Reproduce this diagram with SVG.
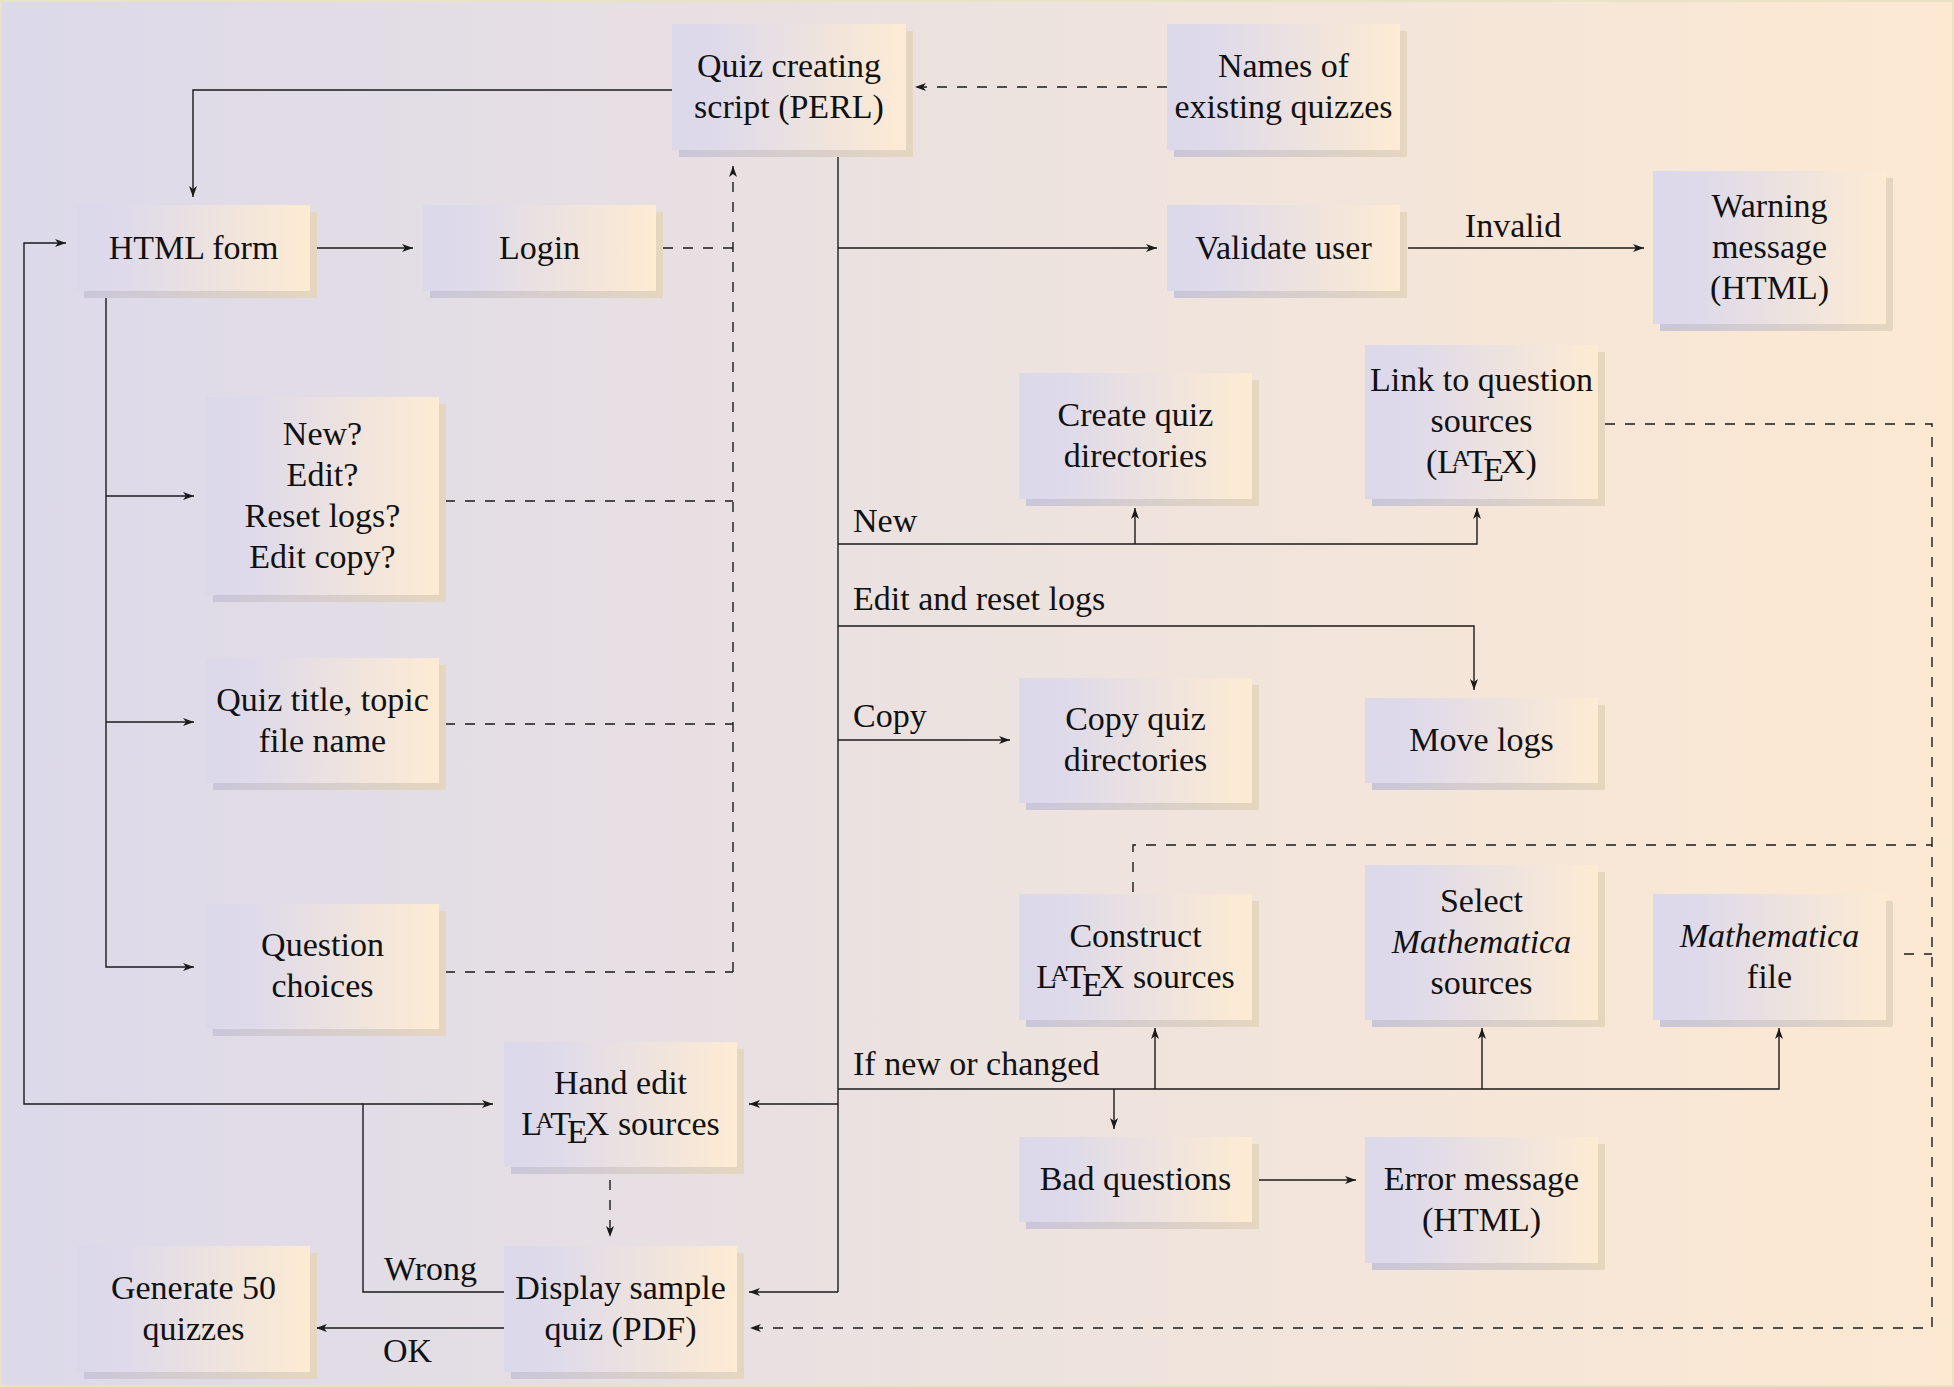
<svg xmlns="http://www.w3.org/2000/svg" width="1954" height="1387" viewBox="0 0 1954 1387">
<defs>
<linearGradient id="bg" x1="0" y1="0" x2="1" y2="0">
<stop offset="0" stop-color="#dcd9ea"/>
<stop offset="0.5" stop-color="#ece2df"/>
<stop offset="1" stop-color="#fde9d2"/>
</linearGradient>
<linearGradient id="boxg" x1="0" y1="0" x2="1" y2="0">
<stop offset="0" stop-color="#dbd8ea"/>
<stop offset="0.2" stop-color="#dedaea"/>
<stop offset="1" stop-color="#fdebd3"/>
</linearGradient>
<linearGradient id="shg" x1="0" y1="0" x2="1" y2="0">
<stop offset="0" stop-color="#c9c6d9"/>
<stop offset="1" stop-color="#e5d6bf"/>
</linearGradient>
<marker id="ah" viewBox="-12 -5 13 10" refX="0" refY="0" markerWidth="13" markerHeight="10" markerUnits="userSpaceOnUse" orient="auto">
<path d="M0,0 L-11,-4 L-8,0 L-11,4 Z" fill="#1a1a1a"/>
</marker>
</defs>
<style>
text{font-family:"Liberation Serif","Times New Roman",serif;font-size:34px;fill:#111;}
.n text{text-anchor:middle;}
.box{fill:url(#boxg);}
.sh{fill:url(#shg);}
.ln{fill:none;stroke:#1a1a1a;stroke-width:1.4;}
.ar{marker-end:url(#ah);}
.da{stroke-dasharray:10 10;}
.it{font-style:italic;}
.sa{font-size:24px;}
</style>
<rect x="0" y="0" width="1954" height="1387" fill="url(#bg)"/>
<rect x="1" y="1" width="1952" height="1385" fill="none" stroke="#e9e3c5" stroke-width="2"/>

<g id="connectors">
<path class="ln ar" d="M672,90 H193 V197"/>
<path class="ln ar" d="M317,248 H413"/>
<path class="ln" d="M838,157 V1292"/>
<path class="ln ar" d="M838,248 H1157"/>
<path class="ln ar" d="M1408,248 H1644"/>
<path class="ln ar" d="M838,544 H1477 V508"/>
<path class="ln ar" d="M1135,544 V508"/>
<path class="ln ar" d="M838,626 H1474 V690"/>
<path class="ln ar" d="M838,740 H1010"/>
<path class="ln ar" d="M838,1089 H1779 V1028"/>
<path class="ln ar" d="M1155,1089 V1028"/>
<path class="ln ar" d="M1482,1089 V1028"/>
<path class="ln ar" d="M1114,1089 V1129"/>
<path class="ln ar" d="M1259,1180 H1356"/>
<path class="ln ar" d="M838,1104 H749"/>
<path class="ln ar" d="M838,1292 H749"/>
<path class="ln ar" d="M106,298 V967 H194"/>
<path class="ln ar" d="M106,496 H194"/>
<path class="ln ar" d="M106,722 H194"/>
<path class="ln ar" d="M504,1292 H363 V1104 H493"/>
<path class="ln ar" d="M363,1104 H24 V243 H66"/>
<path class="ln ar" d="M504,1328 H316"/>
<path class="ln da ar" d="M1167,87 H915"/>
<path class="ln da" d="M663,248 H733"/>
<path class="ln da ar" d="M733,972 V166"/>
<path class="ln da" d="M445,501 H733"/>
<path class="ln da" d="M445,724 H733"/>
<path class="ln da" d="M445,972 H733"/>
<path class="ln da ar" d="M610,1180 V1237"/>
<path class="ln da ar" d="M1605,424 H1932 V1328 H750"/>
<path class="ln da" d="M1133,892 V845 H1932"/>
<path class="ln da" d="M1904,954 H1932"/>
<text x="853" y="532">New</text>
<text x="853" y="610">Edit and reset logs</text>
<text x="853" y="727">Copy</text>
<text x="853" y="1075">If new or changed</text>
<text x="1513" y="237" text-anchor="middle">Invalid</text>
<text x="384" y="1280">Wrong</text>
<text x="383" y="1362">OK</text>
</g>

<g id="quiz-script" class="n">
<rect class="sh" x="679" y="31" width="234" height="126"/>
<rect class="box" x="672" y="24" width="234" height="126"/>
<text x="789" y="77">Quiz creating</text>
<text x="789" y="118">script (PERL)</text>
</g>
<g id="names-existing" class="n">
<rect class="sh" x="1174" y="31" width="233" height="126"/>
<rect class="box" x="1167" y="24" width="233" height="126"/>
<text x="1283.5" y="77">Names of</text>
<text x="1283.5" y="118">existing quizzes</text>
</g>
<g id="html-form" class="n">
<rect class="sh" x="84" y="212" width="233" height="86"/>
<rect class="box" x="77" y="205" width="233" height="86"/>
<text x="193.5" y="258.5">HTML form</text>
</g>
<g id="login" class="n">
<rect class="sh" x="430" y="212" width="233" height="86"/>
<rect class="box" x="423" y="205" width="233" height="86"/>
<text x="539.5" y="258.5">Login</text>
</g>
<g id="validate-user" class="n">
<rect class="sh" x="1174" y="212" width="233" height="86"/>
<rect class="box" x="1167" y="205" width="233" height="86"/>
<text x="1283.5" y="258.5">Validate user</text>
</g>
<g id="warning-message" class="n">
<rect class="sh" x="1660" y="178" width="233" height="153"/>
<rect class="box" x="1653" y="171" width="233" height="153"/>
<text x="1769.5" y="217">Warning</text>
<text x="1769.5" y="258">message</text>
<text x="1769.5" y="299">(HTML)</text>
</g>
<g id="mode-choice" class="n">
<rect class="sh" x="213" y="404" width="233" height="198"/>
<rect class="box" x="206" y="397" width="233" height="198"/>
<text x="322.5" y="445">New?</text>
<text x="322.5" y="486">Edit?</text>
<text x="322.5" y="527">Reset logs?</text>
<text x="322.5" y="568">Edit copy?</text>
</g>
<g id="quiz-title" class="n">
<rect class="sh" x="213" y="665" width="233" height="125"/>
<rect class="box" x="206" y="658" width="233" height="125"/>
<text x="322.5" y="710.5">Quiz title, topic</text>
<text x="322.5" y="751.5">file name</text>
</g>
<g id="question-choices" class="n">
<rect class="sh" x="213" y="911" width="233" height="125"/>
<rect class="box" x="206" y="904" width="233" height="125"/>
<text x="322.5" y="956">Question</text>
<text x="322.5" y="997">choices</text>
</g>
<g id="create-dirs" class="n">
<rect class="sh" x="1026" y="380" width="233" height="126"/>
<rect class="box" x="1019" y="373" width="233" height="126"/>
<text x="1135.5" y="426">Create quiz</text>
<text x="1135.5" y="467">directories</text>
</g>
<g id="link-sources" class="n">
<rect class="sh" x="1372" y="352" width="233" height="154"/>
<rect class="box" x="1365" y="345" width="233" height="154"/>
<text x="1481.5" y="391">Link to question</text>
<text x="1481.5" y="432">sources</text>
<text x="1481.5" y="473">(L<tspan class="sa" dx="-6" dy="-7">A</tspan><tspan dx="-3" dy="7">T</tspan><tspan dx="-4" dy="7.5">E</tspan><tspan dx="-3" dy="-7.5">X)</tspan></text>
</g>
<g id="copy-dirs" class="n">
<rect class="sh" x="1026" y="685" width="233" height="125"/>
<rect class="box" x="1019" y="678" width="233" height="125"/>
<text x="1135.5" y="730">Copy quiz</text>
<text x="1135.5" y="771">directories</text>
</g>
<g id="move-logs" class="n">
<rect class="sh" x="1372" y="705" width="233" height="85"/>
<rect class="box" x="1365" y="698" width="233" height="85"/>
<text x="1481.5" y="751">Move logs</text>
</g>
<g id="construct-latex" class="n">
<rect class="sh" x="1026" y="901" width="233" height="126"/>
<rect class="box" x="1019" y="894" width="233" height="126"/>
<text x="1135.5" y="947">Construct</text>
<text x="1135.5" y="988">L<tspan class="sa" dx="-6" dy="-7">A</tspan><tspan dx="-3" dy="7">T</tspan><tspan dx="-4" dy="7.5">E</tspan><tspan dx="-3" dy="-7.5">X sources</tspan></text>
</g>
<g id="select-mathematica" class="n">
<rect class="sh" x="1372" y="872" width="233" height="155"/>
<rect class="box" x="1365" y="865" width="233" height="155"/>
<text x="1481.5" y="912">Select</text>
<text x="1481.5" y="953" class="it">Mathematica</text>
<text x="1481.5" y="994">sources</text>
</g>
<g id="mathematica-file" class="n">
<rect class="sh" x="1660" y="901" width="233" height="126"/>
<rect class="box" x="1653" y="894" width="233" height="126"/>
<text x="1769.5" y="947" class="it">Mathematica</text>
<text x="1769.5" y="988">file</text>
</g>
<g id="bad-questions" class="n">
<rect class="sh" x="1026" y="1144" width="233" height="85"/>
<rect class="box" x="1019" y="1137" width="233" height="85"/>
<text x="1135.5" y="1190">Bad questions</text>
</g>
<g id="error-message" class="n">
<rect class="sh" x="1372" y="1144" width="233" height="126"/>
<rect class="box" x="1365" y="1137" width="233" height="126"/>
<text x="1481.5" y="1190">Error message</text>
<text x="1481.5" y="1231">(HTML)</text>
</g>
<g id="hand-edit" class="n">
<rect class="sh" x="511" y="1049" width="233" height="125"/>
<rect class="box" x="504" y="1042" width="233" height="125"/>
<text x="620.5" y="1094">Hand edit</text>
<text x="620.5" y="1135">L<tspan class="sa" dx="-6" dy="-7">A</tspan><tspan dx="-3" dy="7">T</tspan><tspan dx="-4" dy="7.5">E</tspan><tspan dx="-3" dy="-7.5">X sources</tspan></text>
</g>
<g id="display-sample" class="n">
<rect class="sh" x="511" y="1253" width="233" height="126"/>
<rect class="box" x="504" y="1246" width="233" height="126"/>
<text x="620.5" y="1299">Display sample</text>
<text x="620.5" y="1340">quiz (PDF)</text>
</g>
<g id="generate-quizzes" class="n">
<rect class="sh" x="84" y="1253" width="233" height="126"/>
<rect class="box" x="77" y="1246" width="233" height="126"/>
<text x="193.5" y="1299">Generate 50</text>
<text x="193.5" y="1340">quizzes</text>
</g>
</svg>
